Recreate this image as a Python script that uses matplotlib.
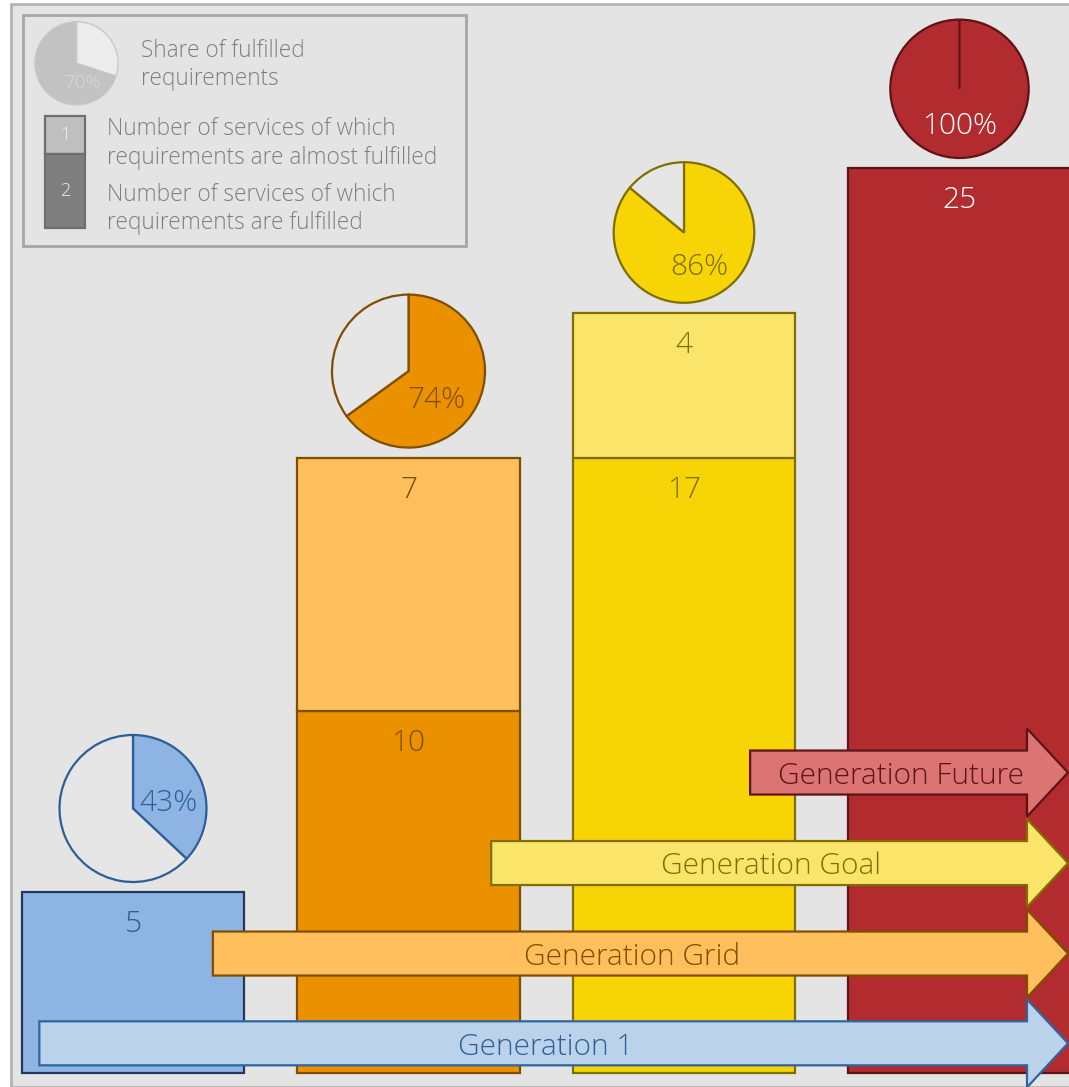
import matplotlib
matplotlib.use("Agg")
import matplotlib.pyplot as plt
from matplotlib.patches import Rectangle, FancyArrow
import math

# ---------------- data ----------------
generations = ["Generation 1", "Generation Grid", "Generation Goal", "Generation Future"]
fulfilled = [5, 10, 17, 25]          # services with fulfilled requirements
almost = [0, 7, 4, 0]                # services with almost fulfilled requirements
share_labels = ["43%", "74%", "86%", "100%"]
share_values = [0.43, 0.74, 0.86, 1.00]
share_drawn = [0.37, 0.65, 0.86, 1.00]   # wedge sizes as drawn in the picture
arrow_start = [-0.34, 0.29, 1.30, 2.24]  # where each generation arrow begins (category units)
arrow_level = [0.82, 3.30, 5.80, 8.30]   # arrow height (value units)

legend_pie_text = ["Share of fulfilled", "requirements"]
legend_almost_text = ["Number of services of which", "requirements are almost fulfilled"]
legend_full_text = ["Number of services of which", "requirements are fulfilled"]
legend_share = 0.70

# ---------------- styles ----------------
dark_fill = ["#8db4e2", "#eb9100", "#f6d406", "#b22b2e"]
light_fill = ["#8db4e2", "#ffbf5c", "#fae46a", "#b22b2e"]
bar_edge = ["#1f3a5c", "#7f4f00", "#7f6f00", "#5e1416"]
pie_edge = ["#2c5f96", "#7f4f00", "#7f6f00", "#5e1416"]
pie_radius = [73.5, 76.5, 70.3, 69.2]    # px
text_col = ["#2e5f99", "#7f4f00", "#7f6f00", "#ffffff"]
arrow_fill = ["#bad3eb", "#ffbf5c", "#fbe46a", "#dc7474"]
arrow_edge = ["#2e65a0", "#7f4f00", "#7f6f00", "#5e1416"]
arrow_text = ["#2e5f99", "#7f4f00", "#7f6f00", "#5e1416"]
BG = "#e4e4e4"
FONT = ["Open Sans", "DejaVu Sans"]
plt.rcParams["font.family"] = FONT

W, H = 1069, 1087
fig = plt.figure(figsize=(W / 100, H / 100), dpi=100)
fig.patch.set_facecolor("white")


def fx(px):
    return px / W


def fy(py):
    return 1 - py / H


# outer frame
fig.patches.append(Rectangle((fx(11), 0), 1.2, fy(4), transform=fig.transFigure,
                             facecolor=BG, edgecolor="#b3b3b3", linewidth=2, zorder=-10))

# main axes
ax = fig.add_axes([0, 0, 1, 1])
ax.set_axis_off()
ax.patch.set_alpha(0)
PX_CAT, PX_VAL, X0, Y0 = 275.5, 36.2, 133, 1073
ax.set_xlim(-X0 / PX_CAT, (W - X0) / PX_CAT)
ax.set_ylim(-(H - Y0) / PX_VAL, Y0 / PX_VAL)

xs = list(range(len(generations)))
BW = 0.806
ax.bar(xs, fulfilled, width=BW, color=dark_fill, edgecolor=bar_edge, linewidth=1.6, zorder=2)
for i in xs:
    if almost[i] > 0:
        ax.bar(i, almost[i], bottom=fulfilled[i], width=BW, color=light_fill[i],
               edgecolor=bar_edge[i], linewidth=1.6, zorder=2)

LBL = 21.5
for i in xs:
    ax.annotate(str(fulfilled[i]), (i, fulfilled[i]), xytext=(0, -23.5), textcoords="offset points",
                ha="center", va="center", fontsize=LBL, color=text_col[i], fontweight="light", zorder=3)
    if almost[i] > 0:
        ax.annotate(str(almost[i]), (i, fulfilled[i] + almost[i]), xytext=(0, -23.5),
                    textcoords="offset points", ha="center", va="center", fontsize=LBL,
                    color=text_col[i], fontweight="light", zorder=3)

# arrows
tip = (W - 1 - X0) / PX_CAT
body_h = 44 / PX_VAL
head_h = 88 / PX_VAL
head_l = 41 / PX_CAT
for i in xs:
    arr = FancyArrow(arrow_start[i], arrow_level[i], tip - arrow_start[i], 0, width=body_h,
                     head_width=head_h, head_length=head_l, length_includes_head=True,
                     facecolor=arrow_fill[i], edgecolor=arrow_edge[i], linewidth=1.6, zorder=4)
    ax.add_patch(arr)
    ax.annotate(generations[i], ((arrow_start[i] + tip) / 2, arrow_level[i]), xytext=(-6, -2.5),
                textcoords="offset points", ha="center", va="center", fontsize=LBL,
                color=arrow_text[i], fontweight="light", zorder=5)

# pies above bars
fig.canvas.draw()
GAP = 10
for i in xs:
    R = pie_radius[i]
    top = fulfilled[i] + almost[i]
    cx, ty = ax.transData.transform((i, top))
    cy = ty + GAP + R
    pax = fig.add_axes([(cx - R) / W, (cy - R) / H, 2 * R / W, 2 * R / H])
    wedges, _ = pax.pie([share_drawn[i], 1 - share_drawn[i]], startangle=90, counterclock=False,
                        colors=[dark_fill[i], "#e6e6e6"],
                        wedgeprops=dict(edgecolor=pie_edge[i], linewidth=1.6))
    for w in wedges:
        w.set_clip_on(False)
    pax.set_xlim(-1, 1)
    pax.set_ylim(-1, 1)
    a = math.radians(360 * share_values[i] / 2)
    pax.text(0.5 * math.sin(a), 0.5 * math.cos(a) - 0.04, share_labels[i], ha="center", va="center",
             fontsize=LBL, color=text_col[i], fontweight="light")

# ---------------- legend ----------------
fig.patches.append(Rectangle((fx(23), fy(245.5)), fx(466) - fx(23), fy(15) - fy(245.5),
                             transform=fig.transFigure, facecolor="none", edgecolor="#a6a6a6",
                             linewidth=2, zorder=5))
LR = 41.6
lpx, lpy = 76.5, 63.3
lax = fig.add_axes([fx(lpx - LR), fy(lpy + LR), 2 * LR / W, 2 * LR / H])
lw_, _ = lax.pie([1 - legend_share, legend_share], startangle=90, counterclock=False,
                 colors=["#ececec", "#c2c2c2"], wedgeprops=dict(edgecolor="#c8c8c8", linewidth=1))
for w in lw_:
    w.set_clip_on(False)
lax.set_xlim(-1, 1)
lax.set_ylim(-1, 1)
lax.text(0.15, -0.47, f"{int(legend_share * 100)}%", ha="center", va="center", fontsize=13.5,
         color="#dadada", fontweight="light")

LEG = 16.3
LEGC = "#7f7f7f"
for txt, yb in zip(legend_pie_text, [57, 85]):
    fig.text(fx(141), fy(yb), txt, ha="left", va="baseline", fontsize=LEG, color=LEGC, fontweight="light")
for txt, yb in zip(legend_almost_text, [135, 164]):
    fig.text(fx(107), fy(yb), txt, ha="left", va="baseline", fontsize=LEG, color=LEGC, fontweight="light")
for txt, yb in zip(legend_full_text, [201, 229]):
    fig.text(fx(107), fy(yb), txt, ha="left", va="baseline", fontsize=LEG, color=LEGC, fontweight="light")

# legend bar
fig.patches.append(Rectangle((fx(45.3), fy(154)), fx(85.3) - fx(45.3), fy(116) - fy(154),
                             transform=fig.transFigure, facecolor="#bfbfbf", edgecolor="#6f6f6f",
                             linewidth=1.6, zorder=5))
fig.patches.append(Rectangle((fx(45.3), fy(228)), fx(85.3) - fx(45.3), fy(154) - fy(228),
                             transform=fig.transFigure, facecolor="#7f7f7f", edgecolor="#6f6f6f",
                             linewidth=1.6, zorder=5))
fig.text(fx(65.3), fy(135), "1", ha="center", va="center", fontsize=13, color="#f0f0f0",
         fontweight="light", zorder=7)
fig.text(fx(65.3), fy(191), "2", ha="center", va="center", fontsize=13, color="#f0f0f0",
         fontweight="light", zorder=7)

fig.savefig("out.png", dpi=100)
